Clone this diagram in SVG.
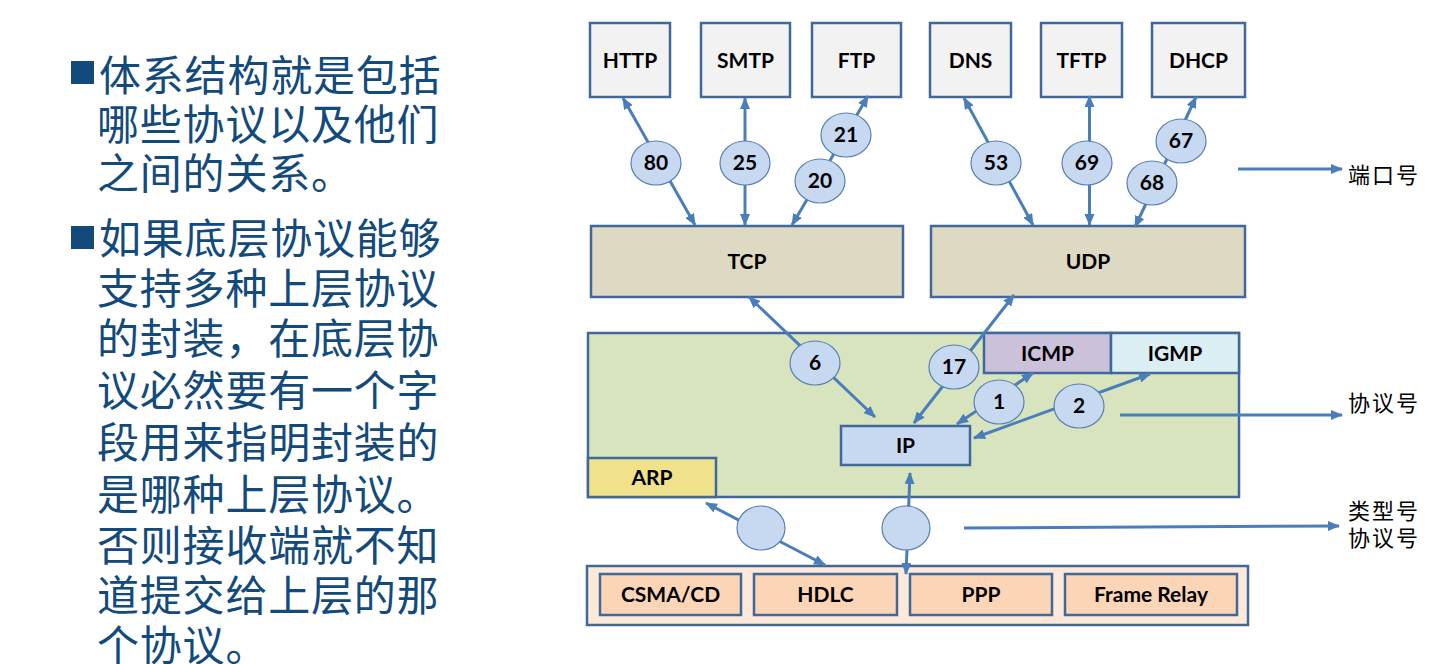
<svg xmlns="http://www.w3.org/2000/svg" width="1447" height="664" viewBox="0 0 1447 664">
<style>
.box{stroke:#41689a;stroke-width:2.5}
.app{fill:#f2f2f2}
.tl{fill:#ddd9c3}
.lbl{font-family:Lato,"Liberation Sans",sans-serif;font-weight:700;font-size:21px;fill:#000;text-anchor:middle}
.num{font-family:Lato,"Liberation Sans",sans-serif;font-weight:700;font-size:21px;fill:#000;text-anchor:middle}
.circ{fill:#c6d9f1;stroke:#5a7fb0;stroke-width:1.2}
.arr{stroke:#4a7ebb;stroke-width:3;fill:none}
.cn{font-family:"Noto Sans CJK SC",sans-serif;font-size:42px;fill:#124a7c;letter-spacing:0.8px}
.rl{font-family:"Noto Sans CJK SC",sans-serif;font-size:22px;fill:#000;letter-spacing:2px}
</style>
<defs>
<marker id="ah" viewBox="0 0 12 10" refX="11" refY="5" markerWidth="12" markerHeight="10" orient="auto-start-reverse" markerUnits="userSpaceOnUse">
<path d="M0,0 L12,5 L0,10 z" fill="#4a7ebb"/>
</marker>
</defs>
<rect width="1447" height="664" fill="#fff"/>

<g id="left-text">
<rect x="71" y="61" width="23" height="23" fill="#124a7c"/>
<text class="cn" x="99" y="91">体系结构就是包括</text>
<text class="cn" x="97" y="140">哪些协议以及他们</text>
<text class="cn" x="97" y="189">之间的关系。</text>
<rect x="71" y="226" width="23" height="23" fill="#124a7c"/>
<text class="cn" x="99" y="254">如果底层协议能够</text>
<text class="cn" x="97" y="304">支持多种上层协议</text>
<text class="cn" x="97" y="354">的封装，在底层协</text>
<text class="cn" x="97" y="406">议必然要有一个字</text>
<text class="cn" x="97" y="458">段用来指明封装的</text>
<text class="cn" x="97" y="510">是哪种上层协议。</text>
<text class="cn" x="97" y="561">否则接收端就不知</text>
<text class="cn" x="97" y="611">道提交给上层的那</text>
<text class="cn" x="97" y="661">个协议。</text>
</g>

<g id="HTTP"><rect class="box app" x="590" y="23" width="80" height="74"/><text class="lbl" x="630" y="67.5">HTTP</text></g>
<g id="SMTP"><rect class="box app" x="701" y="23" width="89" height="74"/><text class="lbl" x="745.5" y="67.5">SMTP</text></g>
<g id="FTP"><rect class="box app" x="812" y="23" width="89" height="74"/><text class="lbl" x="856.5" y="67.5">FTP</text></g>
<g id="DNS"><rect class="box app" x="930" y="23" width="81" height="74"/><text class="lbl" x="970.5" y="67.5">DNS</text></g>
<g id="TFTP"><rect class="box app" x="1041" y="23" width="81" height="74"/><text class="lbl" x="1081.5" y="67.5">TFTP</text></g>
<g id="DHCP"><rect class="box app" x="1152" y="23" width="93" height="74"/><text class="lbl" x="1198.5" y="67.5">DHCP</text></g>

<g id="TCP"><rect class="box tl" x="591" y="226" width="312" height="71"/><text class="lbl" x="747" y="269">TCP</text></g>
<g id="UDP"><rect class="box tl" x="931" y="226" width="314" height="71"/><text class="lbl" x="1088" y="269">UDP</text></g>

<g id="network-layer"><rect class="box" x="588" y="333" width="651" height="164" fill="#d7e4bd"/></g>
<g id="ICMP"><rect class="box" x="984" y="333" width="127" height="40" fill="#ccc1da"/><text class="lbl" x="1047.5" y="360.5">ICMP</text></g>
<g id="IGMP"><rect class="box" x="1111" y="333" width="128" height="40" fill="#dbeef4"/><text class="lbl" x="1175" y="360.5">IGMP</text></g>
<g id="IP"><rect class="box" x="841" y="426" width="129" height="39" fill="#c6d9f1"/><text class="lbl" x="905.5" y="453">IP</text></g>
<g id="ARP"><rect class="box" x="588" y="458" width="128" height="39" fill="#f0e28a"/><text class="lbl" x="652" y="485">ARP</text></g>

<g id="link-layer"><rect class="box" x="587" y="566" width="661" height="59" fill="#fde9d9"/></g>
<g id="CSMA-CD"><rect class="box" x="600" y="574" width="141" height="41" fill="#fbd5b5"/><text class="lbl" x="670.5" y="602">CSMA/CD</text></g>
<g id="HDLC"><rect class="box" x="754" y="574" width="143" height="41" fill="#fbd5b5"/><text class="lbl" x="825.5" y="602">HDLC</text></g>
<g id="PPP"><rect class="box" x="910" y="574" width="142" height="41" fill="#fbd5b5"/><text class="lbl" x="981" y="602">PPP</text></g>
<g id="FrameRelay"><rect class="box" x="1065" y="574" width="172" height="41" fill="#fbd5b5"/><text class="lbl" x="1151" y="602">Frame Relay</text></g>

<g id="connectors">
<line class="arr" x1="623" y1="98" x2="695" y2="225" marker-start="url(#ah)" marker-end="url(#ah)"/>
<line class="arr" x1="745" y1="98" x2="745" y2="225" marker-start="url(#ah)" marker-end="url(#ah)"/>
<line class="arr" x1="868" y1="96" x2="792" y2="225" marker-start="url(#ah)" marker-end="url(#ah)"/>
<line class="arr" x1="964" y1="98" x2="1033" y2="225" marker-start="url(#ah)" marker-end="url(#ah)"/>
<line class="arr" x1="1089.5" y1="96" x2="1089.5" y2="225" marker-start="url(#ah)" marker-end="url(#ah)"/>
<line class="arr" x1="1196" y1="97" x2="1135" y2="227" marker-start="url(#ah)" marker-end="url(#ah)"/>
<line class="arr" x1="749" y1="297" x2="875" y2="417" marker-start="url(#ah)" marker-end="url(#ah)"/>
<line class="arr" x1="1014" y1="295" x2="914" y2="423" marker-start="url(#ah)" marker-end="url(#ah)"/>
<line class="arr" x1="1033" y1="373" x2="957" y2="424" marker-start="url(#ah)" marker-end="url(#ah)"/>
<line class="arr" x1="1150" y1="374" x2="974" y2="438" marker-start="url(#ah)" marker-end="url(#ah)"/>
<line class="arr" x1="706" y1="503" x2="825" y2="565" marker-start="url(#ah)" marker-end="url(#ah)"/>
<line class="arr" x1="910" y1="473" x2="906" y2="574" marker-start="url(#ah)" marker-end="url(#ah)"/>
<line class="arr" x1="1238" y1="169" x2="1342" y2="169" marker-end="url(#ah)"/>
<line class="arr" x1="1120" y1="415" x2="1342" y2="415" marker-end="url(#ah)"/>
<line class="arr" x1="964" y1="528" x2="1339" y2="526" marker-end="url(#ah)"/>
</g>

<g id="connector-labels">
<ellipse class="circ" cx="656" cy="163" rx="25" ry="22"/><text class="num" x="656" cy="0" y="170">80</text>
<ellipse class="circ" cx="745" cy="163" rx="25" ry="22"/><text class="num" x="745" y="170">25</text>
<ellipse class="circ" cx="820" cy="181" rx="25" ry="22"/><text class="num" x="820" y="188">20</text>
<ellipse class="circ" cx="846" cy="135" rx="25" ry="22"/><text class="num" x="846" y="142">21</text>
<ellipse class="circ" cx="996" cy="163" rx="25" ry="22"/><text class="num" x="996" y="170">53</text>
<ellipse class="circ" cx="1087" cy="163" rx="25" ry="22"/><text class="num" x="1087" y="170">69</text>
<ellipse class="circ" cx="1152" cy="183" rx="25" ry="22"/><text class="num" x="1152" y="190">68</text>
<ellipse class="circ" cx="1181" cy="141" rx="25" ry="22"/><text class="num" x="1181" y="148">67</text>
<ellipse class="circ" cx="815" cy="363" rx="25" ry="22"/><text class="num" x="815" y="370">6</text>
<ellipse class="circ" cx="954" cy="367" rx="25" ry="22"/><text class="num" x="954" y="374">17</text>
<ellipse class="circ" cx="999" cy="402" rx="25" ry="22"/><text class="num" x="999" y="409">1</text>
<ellipse class="circ" cx="1079" cy="406" rx="25" ry="22"/><text class="num" x="1079" y="413">2</text>
<ellipse class="circ" cx="761" cy="528" rx="24" ry="22"/>
<ellipse class="circ" cx="906" cy="528" rx="24" ry="22"/>
</g>

<g id="right-labels">
<text class="rl" x="1348" y="183">端口号</text>
<text class="rl" x="1348" y="411">协议号</text>
<text class="rl" x="1348" y="519">类型号</text>
<text class="rl" x="1348" y="546">协议号</text>
</g>
</svg>
